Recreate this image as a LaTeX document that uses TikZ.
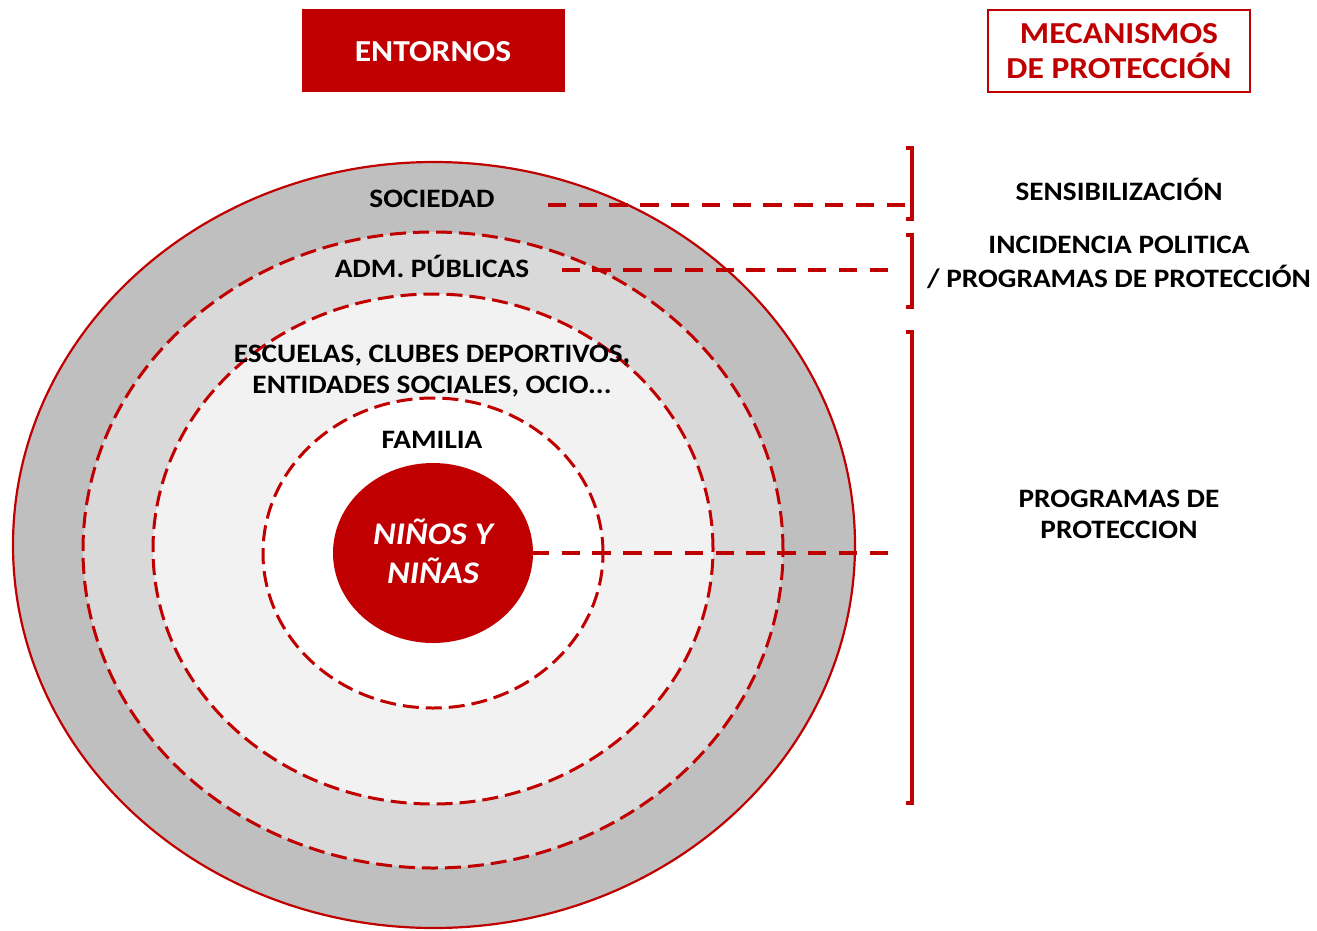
\documentclass[tikz,border=0pt]{standalone}
\usepackage{fontspec}
\setmainfont{Carlito}[FakeStretch=1.1]
\usetikzlibrary{shapes.geometric}
\definecolor{cred}{HTML}{C00000}
\definecolor{gone}{HTML}{BFBFBF}
\definecolor{gtwo}{HTML}{D9D9D9}
\definecolor{gthree}{HTML}{F2F2F2}
\begin{document}
\begin{tikzpicture}[x=1pt,y=-1pt,
  ring/.style={ellipse, draw=cred, inner sep=0pt, line width=3pt, dash pattern=on 16pt off 7pt},
  lbl/.style={anchor=base, inner sep=0pt, font=\bfseries\fontsize{26.6}{31}\selectfont},
  biglbl/.style={anchor=base, inner sep=0pt, font=\bfseries\fontsize{30.5}{35}\selectfont},
  kidlbl/.style={anchor=base, inner sep=0pt, text=white, font=\bfseries\itshape\fontsize{31.5}{39}\selectfont},
  conn/.style={draw=cred, line width=4pt, dash pattern=on 18.5pt off 12.3pt},
  bracketline/.style={draw=cred, line width=3.5pt}]
\useasboundingbox (0,0) rectangle (1317,930);

% header boxes
\fill[cred] (302,9) rectangle (565,92);
\node[biglbl, text=white] (entornos) at (433,61) {ENTORNOS};
\draw[cred, line width=1.5pt] (988,10) rectangle (1250,92);
\node[biglbl, text=cred] (mec1) at (1119,43) {MECANISMOS};
\node[biglbl, text=cred] (mec2) at (1119,78) {DE PROTECCIÓN};

% concentric environments
\node[ellipse, draw=cred, fill=gone, line width=2.2pt, inner sep=0pt,
      minimum width=842pt, minimum height=766pt] (soc) at (434,545) {};
\node[ring, fill=gtwo, minimum width=700pt, minimum height=636pt] (adm) at (433,550) {};
\node[ring, fill=gthree, minimum width=560pt, minimum height=510pt] (esc) at (433,549) {};
\node[ring, fill=white, minimum width=340pt, minimum height=310pt] (fam) at (433,553) {};
\node[ellipse, fill=cred, inner sep=0pt, minimum width=200pt, minimum height=180pt] (kid) at (433,553) {};

% labels in rings
\node[lbl] (tsoc) at (432,207) {SOCIEDAD};
\node[lbl] (tadm) at (432,277) {ADM. PÚBLICAS};
\node[lbl] (tesc1) at (432,362) {ESCUELAS, CLUBES DEPORTIVOS,};
\node[lbl] (tesc2) at (432,393) {ENTIDADES SOCIALES, OCIO...};
\node[lbl] (tfam) at (432,448) {FAMILIA};
\node[kidlbl] (tkid1) at (433,544) {NIÑOS Y};
\node[kidlbl] (tkid2) at (433,583) {NIÑAS};

% brackets
\draw[bracketline] (906,148) -- (912,148) -- (912,219) -- (906,219);
\draw[bracketline] (906,235) -- (912,235) -- (912,307) -- (906,307);
\draw[bracketline] (906,332) -- (912,332) -- (912,803) -- (906,803);

% connectors
\coordinate (s1) at (545,205);
\coordinate (e1) at (905,205);
\coordinate (s2) at (560,270);
\coordinate (e2) at (888,270);
\coordinate (e3) at (888,553);
\draw[conn] (e1) -- (s1);
\draw[conn] (e2) -- (s2);
\draw[conn] (e3) -- (kid.east);

% mechanisms
\node[lbl] (m1) at (1119,200) {SENSIBILIZACIÓN};
\node[lbl] (m2a) at (1119,253) {INCIDENCIA POLITICA};
\node[lbl] (m2b) at (1119,287) {/ PROGRAMAS DE PROTECCIÓN};
\node[lbl] (m3a) at (1119,507) {PROGRAMAS DE};
\node[lbl] (m3b) at (1119,538) {PROTECCION};
\end{tikzpicture}
\end{document}
